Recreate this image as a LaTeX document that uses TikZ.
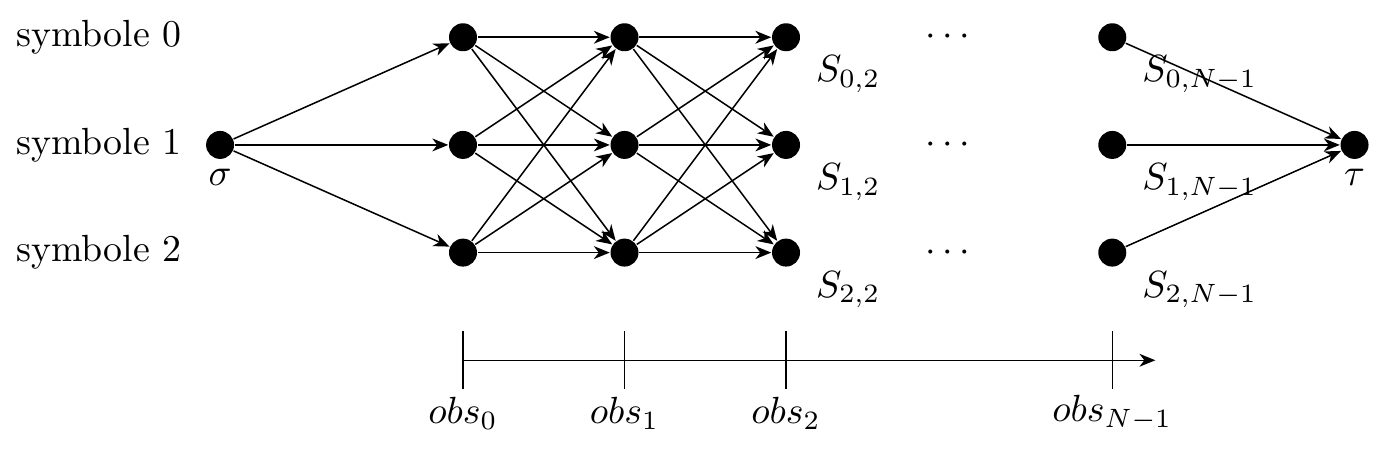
\documentclass[tikz,border=0pt]{standalone}
\usetikzlibrary{arrows.meta}
\begin{document}
\begin{tikzpicture}[x=1cm,y=1cm,
  st/.style={circle,fill=black,inner sep=0pt,minimum size=0.26cm},
  lab/.style={inner sep=2pt},
  tip/.style={-{Stealth[length=4.2pt,width=3.4pt,inset=1.3pt]}},
  edge/.style={tip,thin}]
\useasboundingbox (-4.30,-2.82) rectangle (8.60,1.346);
% labels
\node[lab] (l0) at (-3.38,1) {symbole 0};
\node[lab] (l1) at (-3.38,0) {symbole 1};
\node[lab] (l2) at (-3.38,-1) {symbole 2};
% nodes
\node[st,label={[yshift=1pt]below:$\sigma$}] (sig) at (-2.256,0) {};
\foreach \c/\x in {0/0,1/1.5,2/3,N/6.03}{
  \foreach \r/\y in {0/1,1/0,2/-1}{
    \node[st] (n\c\r) at (\x,\y) {};
  }
}
\node[st,label={[yshift=1pt]below:$\tau$}] (tau) at (8.28,0) {};
\foreach \r in {0,1,2}{
  \node[anchor=north west,inner sep=0pt] (s2\r) at ([xshift=5pt,yshift=-2pt]n2\r.south east) {$S_{\r,2}$};
  \node[anchor=north west,inner sep=0pt] (sN\r) at ([xshift=5pt,yshift=-2pt]nN\r.south east) {$S_{\r,N-1}$};
}
\node (d0) at (4.5,1) {$\cdots$};
\node (d1) at (4.5,0) {$\cdots$};
\node (d2) at (4.5,-1) {$\cdots$};
% edges
\foreach \r in {0,1,2}{
  \draw[edge] (sig) -- (n0\r);
  \draw[edge] (nN\r) -- (tau);
  \foreach \s in {0,1,2}{
    \draw[edge] (n0\r) -- (n1\s);
    \draw[edge] (n1\r) -- (n2\s);
  }
}
% timeline
\coordinate (a0) at (0,-2);
\coordinate (a1) at (6.43,-2);
\draw[tip] (a0) -- (a1);
\foreach \n/\x/\t in {o0/0/0,o1/1.5/1,o2/3/2,oN/6.03/{N-1}}{
  \coordinate (\n t) at (\x,-1.73);
  \coordinate (\n b) at (\x,-2.27);
  \draw (\n t) -- (\n b);
  \node (\n) at (\x,-2.49) {$obs_{\t}$};
}
\end{tikzpicture}
\end{document}
